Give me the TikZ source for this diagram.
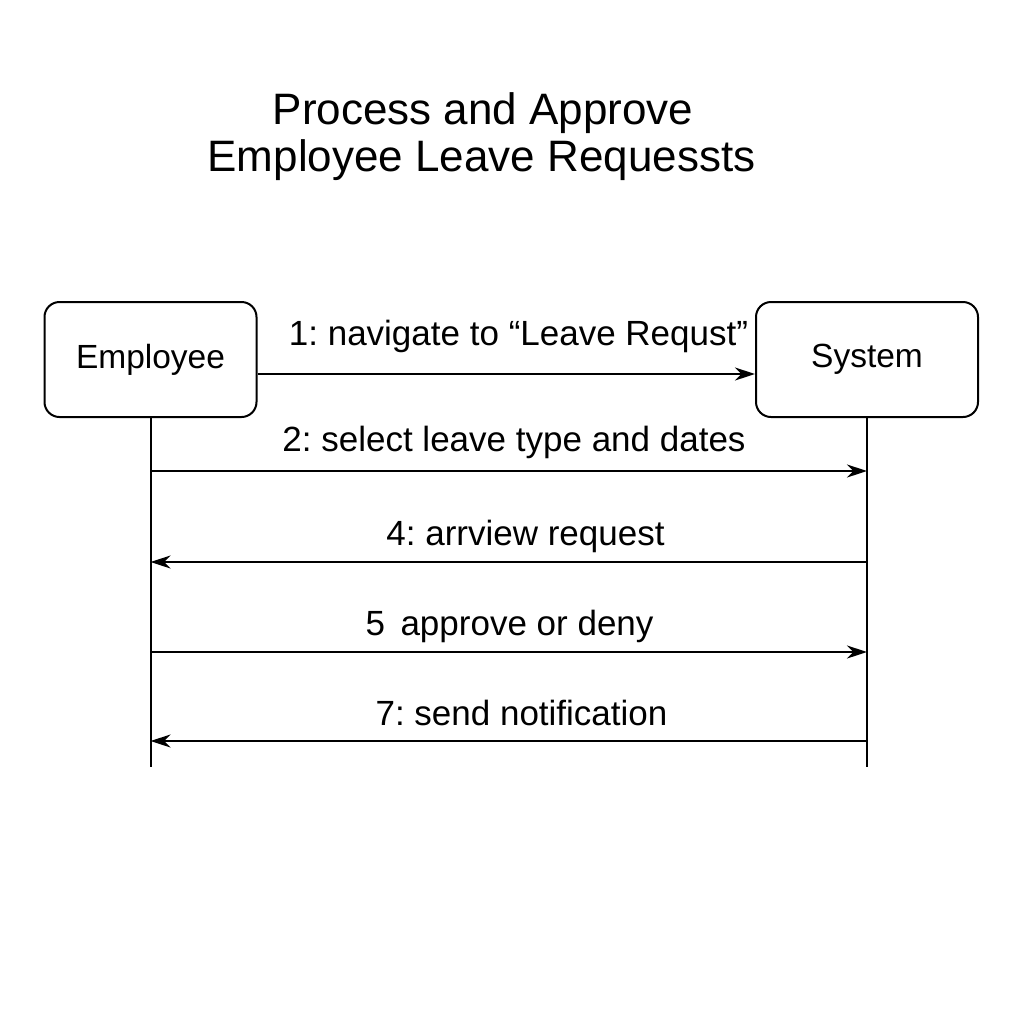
\documentclass[tikz,border=0pt]{standalone}
\usepackage{fontspec}
\setmainfont{Liberation Sans}
\usetikzlibrary{arrows.meta}
\frenchspacing
\tikzset{
  actor/.style={draw,line width=1pt,rounded corners=7.5pt,minimum height=57.5pt,
    font=\fontsize{16.75}{20}\selectfont},
  msg/.style={line width=1pt,-{Stealth[length=10pt,width=6.5pt]}},
  msglabel/.style={anchor=base,inner sep=0pt,font=\fontsize{17.5}{21}\selectfont},
  titletext/.style={anchor=base,inner sep=0pt,font=\fontsize{22}{26}\selectfont}
}
\begin{document}
\begin{tikzpicture}[x=0.5pt,y=-0.5pt]
		\useasboundingbox[fill=white] (0,0) rectangle (1024,1024);
		% title
		\node[titletext] (title1) at (483,124) {Process and Approve};
		\node[titletext] (title2) at (481.5,171) {Employee Leave Requessts};
		% actors
		\node[actor,minimum width=106pt] (emp) at (150.5,359.5) {Employee};
		\node[actor,minimum width=111pt] (sys) at (867,359.5) {System};
		% lifelines
		\coordinate (empend) at (150.5,767);
		\coordinate (sysend) at (867,767);
		\draw[line width=1pt] (emp.south) -- (empend);
		\draw[line width=1pt] (sys.south) -- (sysend);
		% points on the lifelines
		\coordinate (e2) at (150.5,471);
		\coordinate (s2) at (867,471);
		\coordinate (e4) at (150.5,562);
		\coordinate (s4) at (867,562);
		\coordinate (e5) at (150.5,652);
		\coordinate (s5) at (867,652);
		\coordinate (e7) at (150.5,741);
		\coordinate (s7) at (867,741);
		% messages
		\draw[msg] ([yshift=-7.25pt]emp.east) -- ([yshift=-7.25pt]sys.west);
		\draw[msg] (e2) -- (s2);
		\draw[msg] (s4) -- (e4);
		\draw[msg] (e5) -- (s5);
		\draw[msg] (s7) -- (e7);
		\node[msglabel] (lab1) at (518.5,345) {1: navigate to “Leave Requst”};
		\node[msglabel] (lab2) at (514,451) {2: select leave type and dates};
		\node[msglabel] (lab4) at (525.5,545) {4: arrview request};
		\node[msglabel] (lab5) at (509.5,635) {5 \,approve or deny};
		\node[msglabel] (lab7) at (521.5,725) {7: send notification};
\end{tikzpicture}
\end{document}
